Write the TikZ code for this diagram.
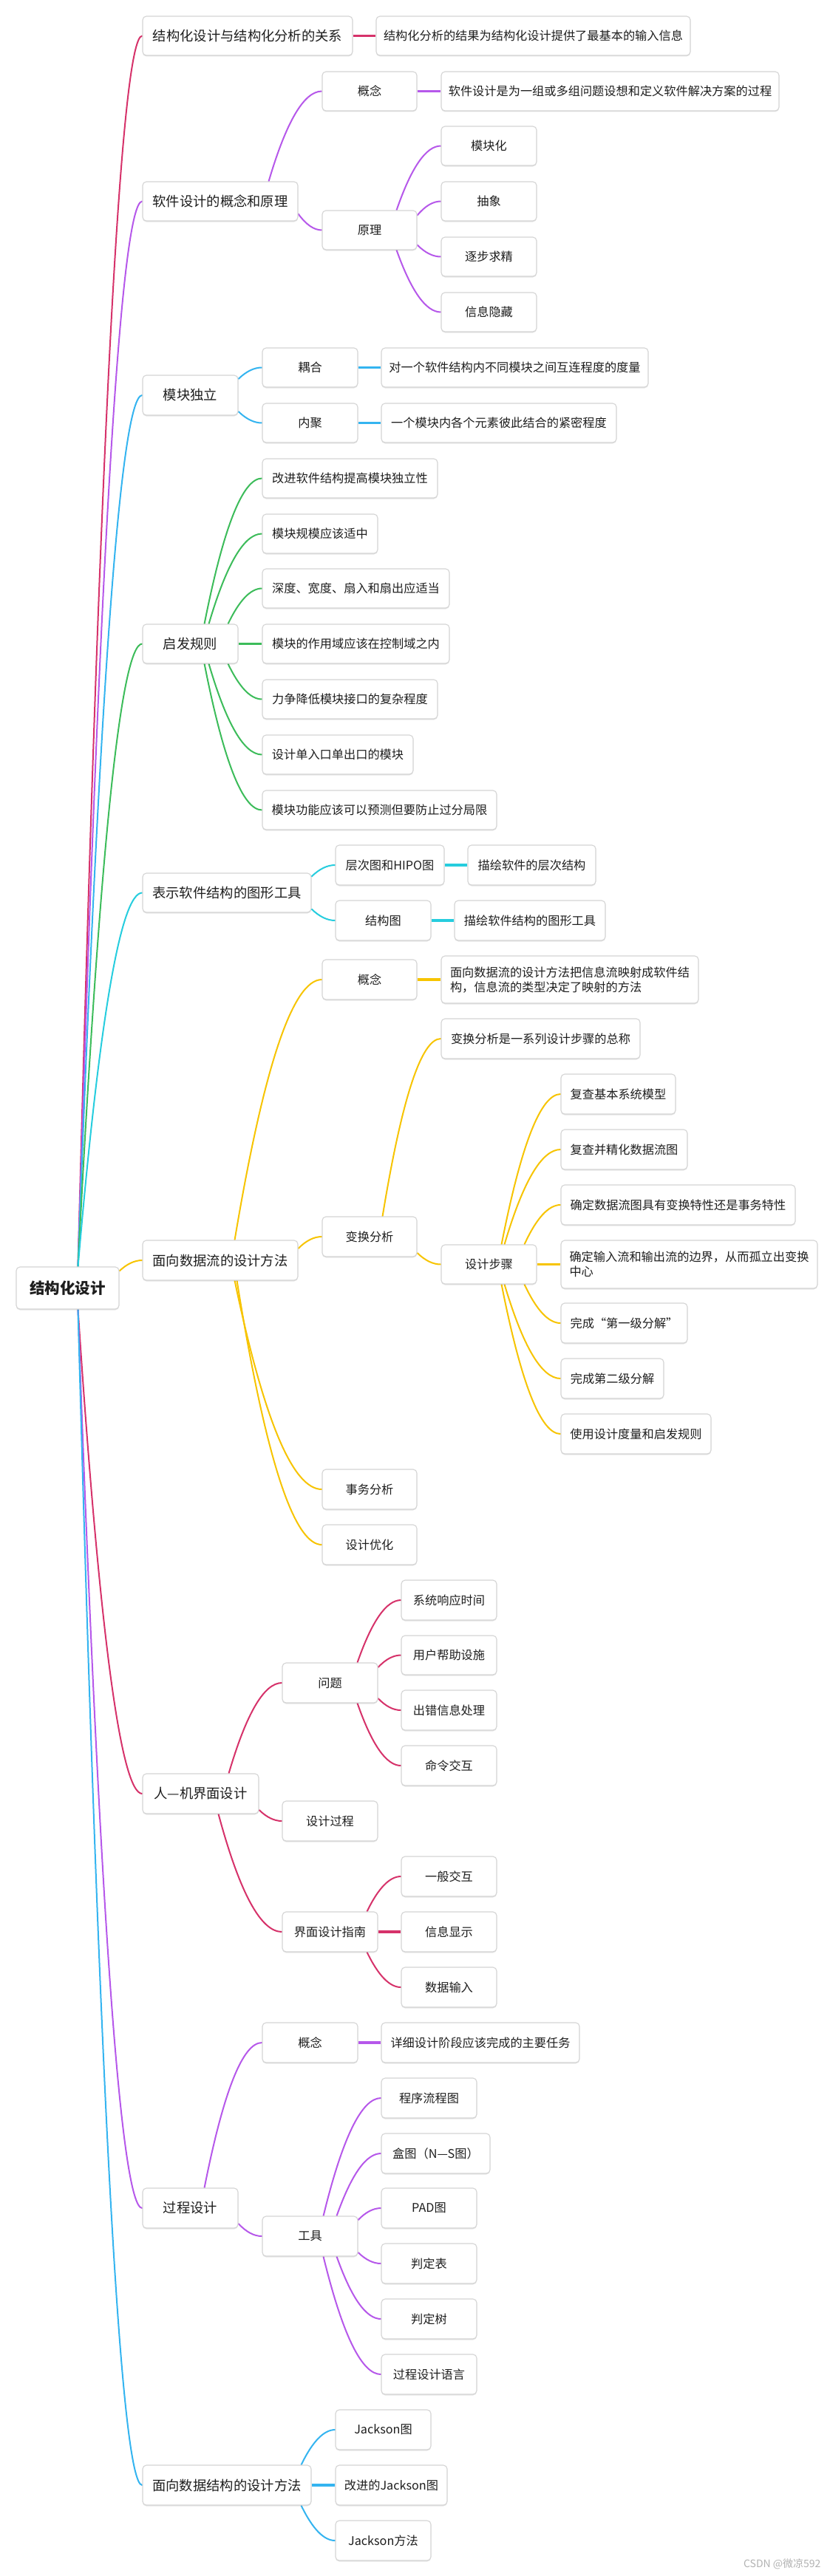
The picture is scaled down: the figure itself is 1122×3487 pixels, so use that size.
\documentclass[tikz,border=0pt]{standalone}
\usepackage{fontspec}
\setmainfont{Noto Sans CJK SC}
\usetikzlibrary{calc,shadows}
\pgfdeclarelayer{bg}
\pgfsetlayers{bg,main}
\definecolor{cred}{RGB}{214,50,106}
\definecolor{cpur}{RGB}{182,88,234}
\definecolor{cblue}{RGB}{52,180,240}
\definecolor{cgreen}{RGB}{60,188,90}
\definecolor{ccyan}{RGB}{38,205,222}
\definecolor{cgold}{RGB}{247,196,0}
\definecolor{boxln}{RGB}{212,212,212}
\definecolor{txt}{RGB}{30,30,30}
\newcommand\fsz[1]{\fontsize{#1}{20}\selectfont}
\newcommand\nd[7]{\node[#1, minimum width={#5-#3}, minimum height={#6-#4}] (#2) at ({(#3+#5)/2},{(#4+#6)/2}) {#7};}
\newcommand\cv[3]{\draw[br,#1] let \p1=#2, \p2=(#3.west) in (\p1) .. controls ({\x1+(\x2-\x1)/3},{\y1+2*(\y2-\y1)/3}) and ({\x2-(\x2-\x1)/3},\y2) .. (\p2);}
\newcommand\hb[3]{\draw[hbar,#1] (#2.east) -- (#3.west);}
\begin{document}
\begin{tikzpicture}[x=1pt,y=-1pt,
  box/.style={draw=boxln, line width=1.1pt, rounded corners=5pt, fill=white, inner sep=5pt, text=txt, font=\fsz{16.2}, align=center,
    drop shadow={shadow xshift=0pt, shadow yshift=-1.5pt, fill=black, opacity=0.10}},
  lone/.style={box, font=\fsz{18.3}},
  rootbox/.style={box, font=\fsz{20.5}\bfseries},
  multi/.style={box, align=left},
  wm/.style={font=\fsz{14}, text=gray!60},
  br/.style={line width=2pt, line cap=round},
  hbar/.style={line width=3.5pt}]
\begin{pgfonlayer}{bg}
\fill[white] (0,0) rectangle (1122,3487);
\end{pgfonlayer}
\useasboundingbox (0,0) rectangle (1122,3487);

\nd{rootbox}{root}{22}{1715}{161}{1772}{结构化设计}

\nd{lone}{A1}{193}{22}{477}{75}{结构化设计与结构化分析的关系}
\nd{box}{A1d}{509}{22}{934}{75}{结构化分析的结果为结构化设计提供了最基本的输入信息}

\nd{lone}{A2}{193}{246}{403}{299}{软件设计的概念和原理}
\nd{box}{A2a}{436}{97}{564}{150}{概念}
\nd{box}{A2ad}{597}{97}{1054}{150}{软件设计是为一组或多组问题设想和定义软件解决方案的过程}
\nd{box}{A2b}{436}{285}{564}{338}{原理}
\nd{box}{A2b1}{597}{171}{726}{224}{模块化}
\nd{box}{A2b2}{597}{246}{726}{299}{抽象}
\nd{box}{A2b3}{597}{321}{726}{374}{逐步求精}
\nd{box}{A2b4}{597}{396}{726}{449}{信息隐藏}

\nd{lone}{A3}{193}{508}{322}{562}{模块独立}
\nd{box}{A3a}{355}{471}{484}{524}{耦合}
\nd{box}{A3ad}{516}{471}{877}{524}{对一个软件结构内不同模块之间互连程度的度量}
\nd{box}{A3b}{355}{546}{484}{599}{内聚}
\nd{box}{A3bd}{516}{546}{834}{599}{一个模块内各个元素彼此结合的紧密程度}

\nd{lone}{A4}{193}{845}{322}{898}{启发规则}
\nd{box}{A4a}{355}{621}{592}{674}{改进软件结构提高模块独立性}
\nd{box}{A4b}{355}{696}{511}{749}{模块规模应该适中}
\nd{box}{A4c}{355}{770}{608}{823}{深度、宽度、扇入和扇出应适当}
\nd{box}{A4d}{355}{845}{608}{898}{模块的作用域应该在控制域之内}
\nd{box}{A4e}{355}{920}{592}{973}{力争降低模块接口的复杂程度}
\nd{box}{A4f}{355}{995}{559}{1048}{设计单入口单出口的模块}
\nd{box}{A4g}{355}{1070}{672}{1123}{模块功能应该可以预测但要防止过分局限}

\nd{lone}{A5}{193}{1182}{421}{1235}{表示软件结构的图形工具}
\nd{box}{A5a}{454}{1144}{601}{1198}{层次图和HIPO图}
\nd{box}{A5ad}{633}{1144}{806}{1198}{描绘软件的层次结构}
\nd{box}{A5b}{454}{1219}{583}{1273}{结构图}
\nd{box}{A5bd}{615}{1219}{819}{1273}{描绘软件结构的图形工具}

\nd{lone}{A6}{193}{1679}{403}{1733}{面向数据流的设计方法}
\nd{box}{A6a}{436}{1299}{564}{1353}{概念}
\nd{multi}{A6ad}{597}{1294}{945}{1358}{面向数据流的设计方法把信息流映射成软件结\\构，信息流的类型决定了映射的方法}
\nd{box}{A6b}{436}{1647}{564}{1701}{变换分析}
\nd{box}{A6b1}{597}{1379}{866}{1433}{变换分析是一系列设计步骤的总称}
\nd{box}{A6b2}{597}{1685}{726}{1738}{设计步骤}
\nd{box}{S1}{759}{1454}{914}{1508}{复查基本系统模型}
\nd{box}{S2}{759}{1529}{930}{1583}{复查并精化数据流图}
\nd{box}{S3}{759}{1604}{1076}{1658}{确定数据流图具有变换特性还是事务特性}
\nd{multi}{S4}{759}{1679}{1106}{1744}{确定输入流和输出流的边界，从而孤立出变换\\中心}
\nd{box}{S5}{759}{1764}{930}{1818}{完成“第一级分解”}
\nd{box}{S6}{759}{1839}{898}{1893}{完成第二级分解}
\nd{box}{S7}{759}{1914}{962}{1968}{使用设计度量和启发规则}
\nd{box}{A6c}{436}{1989}{564}{2043}{事务分析}
\nd{box}{A6d}{436}{2064}{564}{2118}{设计优化}

\nd{lone}{A7}{193}{2401}{350}{2455}{人—机界面设计}
\nd{box}{A7a}{382}{2251}{511}{2305}{问题}
\nd{box}{Q1}{543}{2139}{672}{2193}{系统响应时间}
\nd{box}{Q2}{543}{2214}{672}{2267}{用户帮助设施}
\nd{box}{Q3}{543}{2288}{672}{2342}{出错信息处理}
\nd{box}{Q4}{543}{2363}{672}{2417}{命令交互}
\nd{box}{A7b}{382}{2438}{511}{2492}{设计过程}
\nd{box}{A7c}{382}{2588}{511}{2642}{界面设计指南}
\nd{box}{G1}{543}{2513}{672}{2567}{一般交互}
\nd{box}{G2}{543}{2588}{672}{2642}{信息显示}
\nd{box}{G3}{543}{2663}{672}{2717}{数据输入}

\nd{lone}{A8}{193}{2962}{322}{3016}{过程设计}
\nd{box}{A8a}{355}{2738}{484}{2792}{概念}
\nd{box}{A8ad}{516}{2738}{784}{2792}{详细设计阶段应该完成的主要任务}
\nd{box}{A8b}{355}{3000}{484}{3054}{工具}
\nd{box}{T1}{516}{2813}{645}{2867}{程序流程图}
\nd{box}{T2}{516}{2888}{663}{2942}{盒图（N—S图）}
\nd{box}{T3}{516}{2962}{645}{3016}{PAD图}
\nd{box}{T4}{516}{3037}{645}{3091}{判定表}
\nd{box}{T5}{516}{3112}{645}{3166}{判定树}
\nd{box}{T6}{516}{3187}{645}{3241}{过程设计语言}

\nd{lone}{A9}{193}{3337}{421}{3391}{面向数据结构的设计方法}
\nd{box}{J1}{454}{3262}{583}{3316}{Jackson图}
\nd{box}{J2}{454}{3337}{605}{3391}{改进的Jackson图}
\nd{box}{J3}{454}{3412}{583}{3466}{Jackson方法}

\node[wm, anchor=east] (wm) at (1114,3471) {CSDN @微凉592};

\begin{pgfonlayer}{bg}
\cv{cred}{([xshift=14pt]root.north)}{A1}
\cv{cpur}{([xshift=14pt]root.north)}{A2}
\cv{cblue}{([xshift=14pt]root.north)}{A3}
\cv{cgreen}{([xshift=14pt]root.north)}{A4}
\cv{ccyan}{([xshift=14pt]root.north)}{A5}
\cv{cgold}{([yshift=-6pt]root.north east)}{A6}
\cv{cred}{([xshift=14pt]root.south)}{A7}
\cv{cpur}{([xshift=14pt]root.south)}{A8}
\cv{cblue}{([xshift=14pt]root.south)}{A9}

\hb{cred}{A1}{A1d}
\cv{cpur}{([xshift=-40pt]A2.north east)}{A2a}
\cv{cpur}{([yshift=-17pt]A2.east)}{A2b}
\hb{cpur}{A2a}{A2ad}
\cv{cpur}{([xshift=-28pt]A2b.north east)}{A2b1}
\cv{cpur}{([yshift=20pt]A2b.east)}{A2b2}
\cv{cpur}{([yshift=-20pt]A2b.east)}{A2b3}
\cv{cpur}{([xshift=-28pt]A2b.south east)}{A2b4}

\cv{cblue}{([yshift=22pt]A3.east)}{A3a}
\cv{cblue}{([yshift=-22pt]A3.east)}{A3b}
\hb{cblue}{A3a}{A3ad}
\hb{cblue}{A3b}{A3bd}

\cv{cgreen}{([xshift=-46pt]A4.north east)}{A4a}
\cv{cgreen}{([xshift=-40pt]A4.north east)}{A4b}
\cv{cgreen}{([xshift=-14pt]A4.north east)}{A4c}
\hb{cgreen}{A4}{A4d}
\cv{cgreen}{([xshift=-14pt]A4.south east)}{A4e}
\cv{cgreen}{([xshift=-40pt]A4.south east)}{A4f}
\cv{cgreen}{([xshift=-46pt]A4.south east)}{A4g}

\cv{ccyan}{([yshift=22pt]A5.east)}{A5a}
\cv{ccyan}{([yshift=-22pt]A5.east)}{A5b}
\hb{ccyan}{A5a}{A5ad}
\hb{ccyan}{A5b}{A5bd}

\cv{cgold}{([xshift=-86pt]A6.north east)}{A6a}
\hb{cgold}{A6a}{A6ad}
\cv{cgold}{([yshift=16pt]A6.east)}{A6b}
\cv{cgold}{([xshift=-86pt]A6.south east)}{A6c}
\cv{cgold}{([xshift=-83pt]A6.south east)}{A6d}
\cv{cgold}{([xshift=-47pt]A6b.north east)}{A6b1}
\cv{cgold}{([yshift=-22pt]A6b.east)}{A6b2}
\cv{cgold}{([xshift=-48pt]A6b2.north east)}{S1}
\cv{cgold}{([xshift=-44pt]A6b2.north east)}{S2}
\cv{cgold}{([xshift=-17pt]A6b2.north east)}{S3}
\hb{cgold}{A6b2}{S4}
\cv{cgold}{([xshift=-17pt]A6b2.south east)}{S5}
\cv{cgold}{([xshift=-44pt]A6b2.south east)}{S6}
\cv{cgold}{([xshift=-48pt]A6b2.south east)}{S7}

\cv{cred}{([xshift=-41pt]A7.north east)}{A7a}
\cv{cred}{([yshift=-22pt]A7.east)}{A7b}
\cv{cred}{([xshift=-55pt]A7.south east)}{A7c}
\cv{cred}{([xshift=-28pt]A7a.north east)}{Q1}
\cv{cred}{([yshift=21pt]A7a.east)}{Q2}
\cv{cred}{([yshift=-21pt]A7a.east)}{Q3}
\cv{cred}{([xshift=-28pt]A7a.south east)}{Q4}
\cv{cred}{([xshift=-15pt]A7c.north east)}{G1}
\hb{cred}{A7c}{G2}
\cv{cred}{([xshift=-15pt]A7c.south east)}{G3}

\cv{cpur}{([xshift=-46pt]A8.north east)}{A8a}
\hb{cpur}{A8a}{A8ad}
\cv{cpur}{([yshift=-21pt]A8.east)}{A8b}
\cv{cpur}{([xshift=-47pt]A8b.north east)}{T1}
\cv{cpur}{([xshift=-29pt]A8b.north east)}{T2}
\cv{cpur}{([yshift=22pt]A8b.east)}{T3}
\cv{cpur}{([yshift=-22pt]A8b.east)}{T4}
\cv{cpur}{([xshift=-29pt]A8b.south east)}{T5}
\cv{cpur}{([xshift=-47pt]A8b.south east)}{T6}

\cv{cblue}{([xshift=-14pt]A9.north east)}{J1}
\hb{cblue}{A9}{J2}
\cv{cblue}{([xshift=-14pt]A9.south east)}{J3}
\end{pgfonlayer}
\end{tikzpicture}
\end{document}
